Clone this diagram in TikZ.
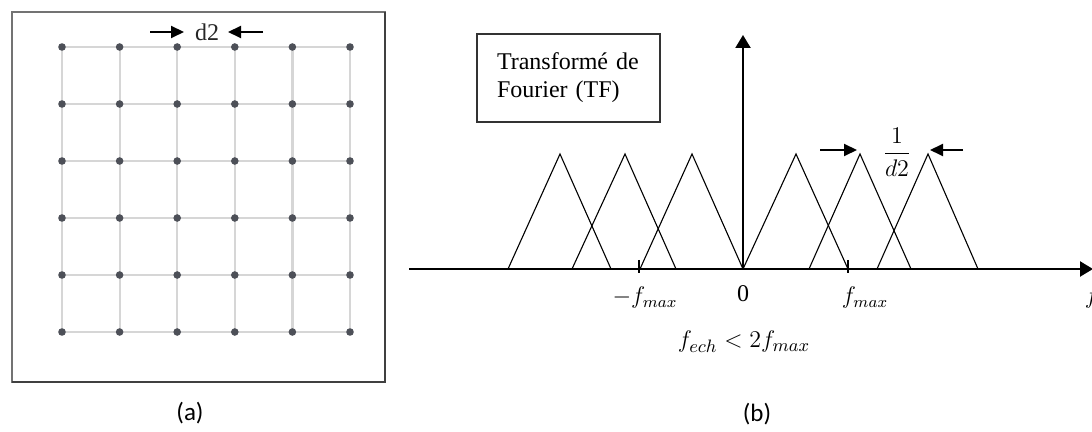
\documentclass[tikz,border=0pt]{standalone}
\usepackage{amsmath}
\usepackage{fontspec}
\setmainfont{Liberation Serif}
\newfontfamily\calibrifont{Carlito}
\usetikzlibrary{arrows.meta}
\definecolor{dotgray}{HTML}{4D5058}
\tikzset{
  gridline/.style={draw=black!16, line width=1.1pt},
  griddot/.style={circle, fill=dotgray, inner sep=0pt, minimum size=3.8pt},
  panelbox/.style={draw=black!55, line width=0.75pt},
  arr/.style={line width=1pt, -{Triangle[length=6.5pt,width=6pt]}},
  axisarrow/.style={line width=1.1pt, -{Triangle[length=6.5pt,width=7.5pt]}},
  tri/.style={line width=0.55pt, line join=miter},
  tick/.style={line width=0.6pt},
  lbl/.style={inner sep=0pt, font=\fontsize{12}{14}\selectfont},
  caption/.style={inner sep=0pt, font=\calibrifont\fontsize{12.5}{15}\selectfont},
  tfbox/.style={draw=black!80, line width=0.75pt, align=left, text width=71.5pt,
    inner xsep=10pt, minimum height=44pt, font=\fontsize{12}{14}\selectfont}
}
\begin{document}
\begin{tikzpicture}[x=0.5pt,y=-0.5pt]
\useasboundingbox (0,0) rectangle (1092,432);
% ---------- panel (a) ----------
\draw[panelbox] (12,12) rectangle (385,382);
\draw[draw=black!75, line width=0.75pt] (385,12) -- (385,382) -- (12,382);
\foreach \i in {0,...,5}{
  \foreach \j in {0,...,5}{
    \coordinate (g\i\j) at ({62+57.6*\i},{47+57*\j});
  }
}
\foreach \i in {0,...,5}{
  \draw[gridline] (g\i0) -- (g\i5);
  \draw[gridline] (g0\i) -- (g5\i);
}
\foreach \i in {0,...,5}{
  \foreach \j in {0,...,5}{
    \node[griddot] (d\i\j) at (g\i\j) {};
  }
}
\node[lbl, text=black!85] (dtwo) at (207,32) {d2};
\coordinate (dl) at (150,32);
\coordinate (dlend) at (184,32);
\coordinate (dr) at (263,32);
\coordinate (drend) at (228,32);
\draw[arr] (dl) -- (dlend);
\draw[arr] (dr) -- (drend);
\node[caption] (capa) at (190,413) {(a)};
% ---------- panel (b) ----------
\node[tfbox] (tf) at (568.5,78) {Transformé de\\Fourier (TF)};
\coordinate (axl) at (409,269);
\coordinate (axr) at (1093,269);
\coordinate (o) at (743,269);
\coordinate (vtop) at (743,35);
% triangles
\draw[tri] (508,269) -- (560,154) -- (611,269);
\draw[tri] (572,269) -- (625,154) -- (676,269);
\draw[tri] (640,269) -- (692,154) -- (743,269);
\draw[tri] (743,269) -- (796,154) -- (848,269);
\draw[tri] (809,269) -- (860,154) -- (911,269);
\draw[tri] (877,269) -- (928,154) -- (978,269);
\draw[axisarrow] (axl) -- (axr);
\draw[axisarrow] (o) -- (vtop);
\coordinate (tm1) at (639,260);
\coordinate (tm2) at (639,273);
\coordinate (tp1) at (848,260);
\coordinate (tp2) at (848,273);
\draw[tick] (tm1) -- (tm2);
\draw[tick] (tp1) -- (tp2);
\node[lbl] (lmf) at (645,298) {$-f_{max}$};
\node[lbl] (lzero) at (743,294) {0};
\node[lbl] (lpf) at (865,298) {$f_{max}$};
\node[lbl] (lf) at (1092,298) {$f$};
\node[lbl, font=\fontsize{13}{15}\selectfont] (lech) at (744,342) {$f_{ech} < 2f_{max}$};
\node[lbl, font=\fontsize{13}{15}\selectfont] (frac) at (897,152) {$\dfrac{1}{d2}$};
\coordinate (fa1) at (820,150);
\coordinate (fa2) at (857,150);
\coordinate (fb1) at (963,150);
\coordinate (fb2) at (930,150);
\draw[arr] (fa1) -- (fa2);
\draw[arr] (fb1) -- (fb2);
\node[caption] (capb) at (757,414) {(b)};
\end{tikzpicture}
\end{document}
